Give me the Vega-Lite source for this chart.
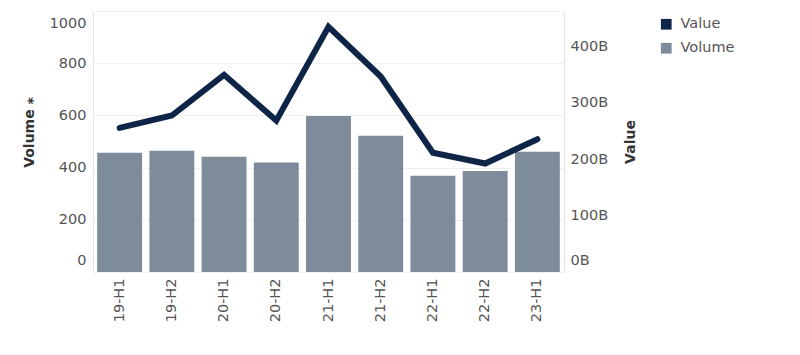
{
  "$schema": "https://vega.github.io/schema/vega-lite/v6.json",
  "autosize": {"type": "none"},
  "width": 471,
  "height": 261,
  "padding": {"left": 93, "top": 11, "right": 236, "bottom": 83},
  "background": "white",
  "config": {
    "font": "DejaVu Sans",
    "view": {"stroke": "#e4e4e4", "strokeWidth": 1},
    "axis": {
      "labelFont": "DejaVu Sans",
      "labelFontSize": 14.5,
      "labelColor": "#555555",
      "titleFont": "DejaVu Sans",
      "titleFontSize": 14,
      "titleFontWeight": "bold",
      "titleColor": "#333333",
      "ticks": false,
      "domain": false
    },
    "legend": {
      "labelFont": "DejaVu Sans",
      "labelFontSize": 14.5,
      "labelColor": "#555555"
    }
  },
  "data": {
    "values": [
      {"period": "19-H1", "Volume": 457, "Value": 255},
      {"period": "19-H2", "Volume": 465, "Value": 277},
      {"period": "20-H1", "Volume": 442, "Value": 349},
      {"period": "20-H2", "Volume": 420, "Value": 268},
      {"period": "21-H1", "Volume": 598, "Value": 434},
      {"period": "21-H2", "Volume": 522, "Value": 346},
      {"period": "22-H1", "Volume": 369, "Value": 211},
      {"period": "22-H2", "Volume": 387, "Value": 192},
      {"period": "23-H1", "Volume": 461, "Value": 235}
    ]
  },
  "encoding": {
    "x": {
      "field": "period",
      "type": "nominal",
      "sort": null,
      "scale": {"paddingInner": 0.14, "paddingOuter": 0.08},
      "axis": {
        "title": null,
        "labelAngle": 270,
        "labelPadding": 6
      }
    }
  },
  "layer": [
    {
      "mark": {"type": "bar", "color": "#7e8b9b"},
      "encoding": {
        "y": {
          "field": "Volume",
          "type": "quantitative",
          "scale": {"domain": [0, 1000], "nice": false},
          "axis": {
            "title": "Volume ⁎",
            "format": "d",
            "values": [0, 200, 400, 600, 800, 1000],
            "grid": true,
            "gridColor": "#f0f0f0",
            "labelPadding": 7,
            "labelFlush": true,
            "labelFlushOffset": -5,
            "titlePadding": 13,
            "titleY": 121
          }
        },
        "color": {
          "datum": "Volume",
          "scale": {"domain": ["Value", "Volume"], "range": ["#0f2548", "#7e8b9b"]},
          "legend": {
            "title": null,
            "orient": "none",
            "legendX": 566,
            "legendY": 6,
            "symbolType": "square",
            "symbolSize": 115,
            "symbolStrokeWidth": 0,
            "rowPadding": 9,
            "labelOffset": 7,
            "encode": {
              "symbols": {"update": {"fill": {"scale": "color", "field": "value"}, "strokeWidth": {"value": 0}, "opacity": {"value": 1}}}
            }
          }
        }
      }
    },
    {
      "mark": {"type": "line", "color": "#0f2548", "strokeWidth": 6, "strokeCap": "round"},
      "encoding": {
        "y": {
          "field": "Value",
          "type": "quantitative",
          "scale": {"domain": [0, 462], "nice": false},
          "axis": {
            "title": "Value",
            "titleAngle": 270,
            "orient": "right",
            "values": [0, 100, 200, 300, 400],
            "labelExpr": "datum.value + 'B'",
            "grid": false,
            "labelPadding": 6,
            "labelFlush": true,
            "labelFlushOffset": -5,
            "titlePadding": 30
          }
        },
        "color": {"datum": "Value"}
      }
    }
  ],
  "resolve": {"scale": {"y": "independent"}}
}
